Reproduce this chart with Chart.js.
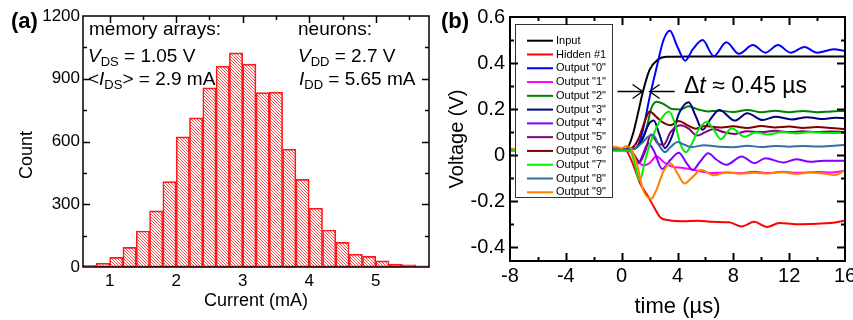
<!DOCTYPE html>
<html>
<head>
<meta charset="utf-8">
<script src="https://cdn.jsdelivr.net/npm/chart.js@4.4.0/dist/chart.umd.min.js"></script>
<style>
  html, body { margin: 0; padding: 0; background: #fff; }
  #wrap { position: relative; width: 853px; height: 320px; overflow: hidden; }
  #boxA { position: absolute; left: 0; top: 0; width: 430px; height: 320px; }
  #boxB { position: absolute; left: 430px; top: 0; width: 423px; height: 320px; overflow: hidden; }
</style>
</head>
<body>
<div id="wrap">
  <div id="boxA"><canvas id="chartA" width="430" height="320"></canvas></div>
  <div id="boxB"><canvas id="chartB" width="440" height="320"></canvas></div>
</div>
<script>
const FONT = "'Liberation Sans', Arial, sans-serif";

// ---- (a) histogram of memory-array currents ----
const binCenters = [0.7, 0.9, 1.1, 1.3, 1.5, 1.7, 1.9, 2.1, 2.3, 2.5, 2.7, 2.9, 3.1,
                    3.3, 3.5, 3.7, 3.9, 4.1, 4.3, 4.5, 4.7, 4.9, 5.1, 5.3, 5.5, 5.7];
const counts = [8, 18, 46, 94, 172, 268, 408, 622, 713, 856, 960, 1024, 970,
                834, 836, 563, 419, 281, 177, 118, 61, 51, 29, 14, 10, 5];
const xTicksA = [1, 2, 3, 4, 5];
const yTicksA = [0, 300, 600, 900, 1200];

// ---- (b) transient response, [time (us), voltage (V)] ----
const seriesNames = ['Input', 'Hidden #1', 'Output "0"', 'Output "1"', 'Output "2"', 'Output "3"',
                     'Output "4"', 'Output "5"', 'Output "6"', 'Output "7"', 'Output "8"', 'Output "9"'];
const seriesColors = ['#000000', '#ff0000', '#0000ff', '#ff00ff', '#008000', '#000080',
                      '#8000ff', '#800080', '#800000', '#00ee00', '#336fa8', '#ff8000'];

const input = [[-8,0.025],[-5,0.024],[-2,0.025],[0,0.024],[0.4,0.03],[0.8,0.09],[1.2,0.19],[1.5,0.27],
               [2.0,0.37],[2.6,0.415],[3.2,0.427],[5,0.428],[10,0.428],[16,0.428]];
const hidden1 = [[-8,0.022],[-4,0.02],[-1,0.022],[0.3,0.02],[0.6,-0.01],[1.0,-0.07],[1.3,-0.12],[1.9,-0.18],
                 [2.35,-0.23],[2.8,-0.272],[3.4,-0.283],[4.4,-0.287],[5.5,-0.285],[6.5,-0.29],[7.7,-0.292],
                 [8.6,-0.31],[9.5,-0.29],[10.4,-0.312],[11.3,-0.295],[12.5,-0.3],[14,-0.298],[15,-0.295],[16,-0.285]];
const out0 = [[-8,0.025],[-4,0.022],[-1,0.025],[0.5,0.025],[1.0,0.03],[1.3,0.06],[1.6,0.13],[2.0,0.25],
              [2.5,0.38],[3.0,0.5],[3.45,0.54],[4.0,0.47],[4.55,0.41],[5.1,0.46],[5.8,0.5],[6.6,0.43],
              [7.5,0.49],[8.4,0.44],[9.4,0.478],[10.3,0.445],[11.2,0.478],[12.1,0.445],[13.1,0.47],
              [14.0,0.445],[15.2,0.46],[16,0.453]];
const out1 = [[-8,0.02],[-4,0.022],[-1,0.02],[0.4,0.02],[0.8,0.005],[1.2,-0.03],[1.6,-0.045],[2.0,-0.035],
              [2.5,-0.005],[3.0,-0.03],[3.6,-0.05],[4.3,-0.055],[5.0,-0.062],[5.8,-0.072],[6.5,-0.078],
              [7.5,-0.075],[8.5,-0.079],[9.5,-0.072],[10.5,-0.078],[11.5,-0.072],[12.5,-0.077],[14,-0.073],
              [15,-0.076],[16,-0.068]];
const out2 = [[-8,0.026],[-4,0.024],[-1,0.026],[0.6,0.025],[1.0,0.03],[1.4,0.06],[1.8,0.12],[2.1,0.2],
              [2.5,0.232],[3.0,0.222],[3.6,0.2],[4.2,0.198],[4.8,0.212],[5.5,0.198],[6.2,0.19],[7,0.193],
              [8,0.187],[9,0.196],[10,0.186],[11,0.193],[12,0.186],[13,0.192],[14,0.186],[15,0.19],[16,0.192]];
const out3 = [[-8,0.024],[-4,0.026],[-1,0.024],[0.6,0.026],[1.0,0.03],[1.5,0.07],[1.9,0.13],[2.3,0.15],
              [2.7,0.09],[3.1,0.03],[3.6,0.08],[4.1,0.18],[4.8,0.23],[5.3,0.17],[5.8,0.11],[6.4,0.16],
              [7.0,0.196],[8.1,0.15],[9.0,0.182],[10.1,0.152],[11.0,0.167],[12.2,0.155],[13.3,0.165],
              [14.3,0.157],[15.3,0.162],[16,0.16]];
const out4 = [[-8,0.022],[-4,0.02],[-1,0.022],[0.6,0.024],[0.9,0.0],[1.2,-0.035],[1.5,0.0],[1.9,0.05],
              [2.3,0.02],[2.9,-0.06],[3.5,-0.02],[4.1,0.01],[4.6,-0.03],[5.1,-0.065],[5.6,-0.03],[6.2,0.008],
              [6.8,-0.02],[7.5,-0.042],[8.6,-0.006],[9.5,-0.035],[10.3,-0.014],[11.6,-0.032],[12.5,-0.018],
              [13.5,-0.029],[14.5,-0.024],[16,-0.025]];
const out5 = [[-8,0.025],[-4,0.023],[-1,0.025],[0.6,0.024],[0.9,0.0],[1.3,-0.03],[1.7,0.02],[2.1,0.09],
              [2.6,0.05],[3.0,0.045],[3.5,0.1],[4.2,0.13],[4.8,0.115],[5.4,0.085],[6.0,0.1],[6.6,0.113],
              [7.3,0.1],[8.1,0.092],[9,0.104],[10,0.1],[11,0.106],[12,0.1],[13,0.104],[14,0.1],[15,0.103],[16,0.1]];
const out6 = [[-8,0.025],[-4,0.027],[-1,0.025],[0.5,0.026],[0.9,0.04],[1.2,0.07],[1.5,0.12],[1.8,0.17],
              [2.0,0.19],[2.5,0.165],[3.0,0.14],[3.5,0.13],[4.1,0.148],[4.7,0.13],[5.3,0.115],[6.0,0.127],
              [7,0.12],[8,0.125],[9,0.118],[10,0.126],[11,0.12],[12,0.124],[13,0.118],[14,0.122],[15,0.118],[16,0.112]];
const out7 = [[-8,0.02],[-4,0.018],[-1,0.02],[0.6,0.02],[0.9,-0.03],[1.3,-0.11],[1.65,-0.03],[2.0,0.044],
              [2.5,0.12],[3.0,0.172],[3.4,0.19],[3.8,0.14],[4.2,0.05],[4.6,0.012],[5.0,0.045],[5.5,0.11],
              [6.1,0.145],[6.6,0.11],[7.1,0.07],[7.9,0.117],[8.8,0.08],[9.6,0.098],[10.5,0.09],[11.5,0.1],
              [12.5,0.094],[13.5,0.1],[14.5,0.096],[16,0.097]];
const out8 = [[-8,0.025],[-4,0.023],[-1,0.025],[0.5,0.025],[1.0,0.03],[1.5,0.055],[1.9,0.08],[2.25,0.087],
              [2.7,0.04],[3.1,0.013],[3.5,0.035],[4.0,0.057],[4.5,0.045],[5.0,0.035],[5.9,0.043],[7,0.036],
              [8,0.034],[9,0.041],[10,0.035],[11,0.04],[12,0.036],[13,0.04],[14,0.037],[15,0.04],[16,0.044]];
const out9 = [[-8,0.028],[-5,0.024],[-2,0.03],[-1,0.027],[-0.5,0.036],[0,0.03],[0.3,0.038],[0.6,0.035],
              [0.9,-0.005],[1.1,-0.04],[1.5,-0.145],[2.1,-0.19],[2.5,-0.15],[3.0,-0.07],[3.5,-0.035],
              [4.0,-0.08],[4.5,-0.123],[5.0,-0.1],[5.7,-0.065],[6.6,-0.088],[7.5,-0.075],[8.5,-0.081],
              [9.5,-0.077],[10.5,-0.08],[11.5,-0.074],[12.5,-0.082],[13.5,-0.075],[14.5,-0.08],[15.3,-0.086],[16,-0.065]];
const traces = [input, hidden1, out0, out1, out2, out3, out4, out5, out6, out7, out8, out9];

const xTicksB = [-8, -4, 0, 4, 8, 12, 16];
const yTicksB = [-0.4, -0.2, 0, 0.2, 0.4, 0.6];

// frame + inward ticks on all sides
function boxTicks(cfg) {
    return {
        id: 'boxTicks',
        afterDraw(chart) {
            const { ctx, chartArea: a } = chart;
            const sx = chart.scales.x, sy = chart.scales.y;
            ctx.save();
            ctx.strokeStyle = '#000';
            ctx.lineWidth = cfg.frame;
            ctx.strokeRect(a.left, a.top, a.right - a.left, a.bottom - a.top);
            ctx.lineWidth = cfg.tickWidth;
            ctx.beginPath();
            [[cfg.xMajor, cfg.major], [cfg.xMinor, cfg.minor]].forEach(([vals, len]) => vals.forEach(v => {
                const px = Math.round(sx.getPixelForValue(v)) + 0.5;
                if (cfg.bottom) { ctx.moveTo(px, a.bottom); ctx.lineTo(px, a.bottom - len); }
                ctx.moveTo(px, a.top); ctx.lineTo(px, a.top + len);
            }));
            [[cfg.yMajor, cfg.major], [cfg.yMinor, cfg.minor]].forEach(([vals, len]) => vals.forEach(v => {
                const py = Math.round(sy.getPixelForValue(v)) + 0.5;
                ctx.moveTo(a.left, py); ctx.lineTo(a.left + len, py);
                ctx.moveTo(a.right, py); ctx.lineTo(a.right - len, py);
            }));
            ctx.stroke();
            ctx.restore();
        }
    };
}

// text with italic symbols and subscripts
function richText(ctx, x, y, parts, size) {
    let cx = x;
    parts.forEach(p => {
        const s = p.sub ? Math.round(size * 0.7) : size;
        ctx.font = (p.it ? 'italic ' : '') + s + 'px ' + FONT;
        ctx.fillText(p.t, cx, y + (p.sub ? size * 0.22 : 0));
        cx += ctx.measureText(p.t).width;
    });
}

function hatch() {
    const c = document.createElement('canvas');
    c.width = 3; c.height = 3;
    const p = c.getContext('2d');
    p.strokeStyle = 'rgba(255, 20, 20, 0.85)';
    p.lineWidth = 0.9;
    p.beginPath();
    p.moveTo(0, 0); p.lineTo(3, 3);
    p.moveTo(-1.5, 1.5); p.lineTo(1.5, 4.5);
    p.moveTo(1.5, -1.5); p.lineTo(4.5, 1.5);
    p.stroke();
    return p.createPattern(c, 'repeat');
}

const notesA = {
    id: 'notesA',
    afterDraw(chart) {
        const ctx = chart.ctx;
        ctx.save();
        ctx.fillStyle = '#000';
        ctx.textBaseline = 'alphabetic';
        ctx.textAlign = 'left';
        ctx.font = 'bold 22px ' + FONT;
        ctx.fillText('(a)', 11, 28);
        const fs = 19;
        richText(ctx, 89, 35, [{ t: 'memory arrays:' }], fs);
        richText(ctx, 88, 62, [{ t: 'V', it: true }, { t: 'DS', sub: true }, { t: ' = 1.05 V' }], fs);
        richText(ctx, 88, 85, [{ t: '<' }, { t: 'I', it: true }, { t: 'DS', sub: true }, { t: '> = 2.9 mA' }], fs);
        richText(ctx, 298, 35, [{ t: 'neurons:' }], fs);
        richText(ctx, 298, 62, [{ t: 'V', it: true }, { t: 'DD', sub: true }, { t: ' = 2.7 V' }], fs);
        richText(ctx, 299, 85, [{ t: 'I', it: true }, { t: 'DD', sub: true }, { t: ' = 5.65 mA' }], fs);
        // y title
        ctx.translate(27, 155);
        ctx.rotate(-Math.PI / 2);
        ctx.textAlign = 'center';
        ctx.textBaseline = 'middle';
        ctx.font = '18px ' + FONT;
        ctx.fillText('Count', 0, 0);
        ctx.restore();
    }
};

function arrow(ctx, x0, x1, y) {
    const d = Math.sign(x1 - x0);
    ctx.beginPath();
    ctx.moveTo(x0, y); ctx.lineTo(x1, y);
    ctx.moveTo(x1 - d * 10, y - 7); ctx.lineTo(x1, y); ctx.lineTo(x1 - d * 10, y + 7);
    ctx.stroke();
}

const notesB = {
    id: 'notesB',
    afterDatasetsDraw(chart) {
        const ctx = chart.ctx;
        const sx = chart.scales.x, sy = chart.scales.y;
        ctx.save();
        // delay arrows
        const ay = Math.round(sy.getPixelForValue(0.278)) + 0.5;
        ctx.strokeStyle = '#000';
        ctx.lineWidth = 1.3;
        arrow(ctx, sx.getPixelForValue(-0.3), sx.getPixelForValue(1.5), ay);
        arrow(ctx, sx.getPixelForValue(3.8), sx.getPixelForValue(2.0), ay);
        ctx.fillStyle = '#000';
        ctx.textBaseline = 'alphabetic';
        richText(ctx, 254, 93, [{ t: '\u0394' }, { t: 't', it: true }, { t: ' \u2248 0.45 \u00b5s' }], 23);
        // legend box
        ctx.fillStyle = '#fff';
        ctx.fillRect(85, 24, 98, 174);
        ctx.strokeStyle = '#333';
        ctx.lineWidth = 1;
        ctx.strokeRect(85.5, 24.5, 97, 173);
        ctx.font = '11px ' + FONT;
        ctx.textBaseline = 'middle';
        chart.data.datasets.forEach((ds, i) => {
            const y = 40.7 + i * 13.78;
            ctx.strokeStyle = ds.borderColor;
            ctx.lineWidth = 2;
            ctx.beginPath(); ctx.moveTo(97, y); ctx.lineTo(123, y); ctx.stroke();
            ctx.fillStyle = '#000';
            ctx.fillText(ds.label, 126, y);
        });
        ctx.restore();
    },
    afterDraw(chart) {
        const ctx = chart.ctx;
        ctx.save();
        ctx.fillStyle = '#000';
        ctx.font = 'bold 22px ' + FONT;
        ctx.textBaseline = 'alphabetic';
        ctx.fillText('(b)', 11, 28);
        ctx.restore();
    }
};

new Chart(document.getElementById('chartA'), {
    type: 'bar',
    data: {
        datasets: [{
            data: binCenters.map((c, i) => ({ x: c, y: counts[i] })),
            backgroundColor: hatch(),
            borderColor: '#ff1a1a',
            borderWidth: 1,
            borderSkipped: false,
            barPercentage: 1,
            categoryPercentage: 1
        }]
    },
    options: {
        responsive: false,
        animation: false,
        devicePixelRatio: 1,
        layout: { padding: { left: 0, top: 16, right: 1, bottom: 0 } },
        plugins: { legend: { display: false }, tooltip: { enabled: false } },
        scales: {
            x: {
                type: 'linear', offset: false, min: 0.6, max: 5.8,
                grid: { display: false, drawTicks: false },
                border: { display: false },
                afterBuildTicks: s => { s.ticks = xTicksA.map(v => ({ value: v })); },
                ticks: { color: '#000', font: { family: FONT, size: 17 }, padding: 4, maxRotation: 0,
                         callback: v => String(v) },
                title: { display: true, text: 'Current (mA)', color: '#000',
                         font: { family: FONT, size: 18 }, padding: { top: 0, bottom: 8 } },
                afterFit: s => { s.height = 53; }
            },
            y: {
                min: 0, max: 1200,
                grid: { display: false, drawTicks: false },
                border: { display: false },
                afterBuildTicks: s => { s.ticks = yTicksA.map(v => ({ value: v })); },
                ticks: { color: '#000', font: { family: FONT, size: 17 }, padding: 3,
                         callback: v => String(v) },
                afterFit: s => { s.width = 83; }
            }
        }
    },
    plugins: [boxTicks({ frame: 1.5, tickWidth: 1.5, major: 7, minor: 4, bottom: false,
                         xMajor: [1, 2, 3, 4, 5], xMinor: [1.5, 2.5, 3.5, 4.5, 5.5],
                         yMajor: [300, 600, 900], yMinor: [150, 450, 750, 1050] }), notesA]
});

new Chart(document.getElementById('chartB'), {
    type: 'line',
    data: {
        datasets: traces.map((d, i) => ({
            label: seriesNames[i],
            data: d.map(p => ({ x: p[0], y: p[1] })),
            borderColor: seriesColors[i],
            borderWidth: 2,
            pointRadius: 0,
            cubicInterpolationMode: 'monotone',
            order: traces.length - i
        }))
    },
    options: {
        responsive: false,
        animation: false,
        devicePixelRatio: 1,
        layout: { padding: { left: 0, top: 17, right: 25, bottom: 0 } },
        plugins: { legend: { display: false }, tooltip: { enabled: false } },
        scales: {
            x: {
                type: 'linear', min: -8, max: 16,
                grid: { display: false, drawTicks: false },
                border: { display: false },
                afterBuildTicks: s => { s.ticks = xTicksB.map(v => ({ value: v })); },
                ticks: { color: '#000', font: { family: FONT, size: 20 }, padding: 3, maxRotation: 0,
                         callback: v => String(v) },
                title: { display: true, text: 'time (\u00b5s)', color: '#000',
                         font: { family: FONT, size: 22 }, padding: { top: 0, bottom: 0 } },
                afterFit: s => { s.height = 59; }
            },
            y: {
                min: -0.46, max: 0.6,
                grid: { display: false, drawTicks: false },
                border: { display: false },
                afterBuildTicks: s => { s.ticks = yTicksB.map(v => ({ value: v })); },
                ticks: { color: '#000', font: { family: FONT, size: 20 }, padding: 5,
                         callback: v => String(v) },
                title: { display: true, text: 'Voltage (V)', color: '#000',
                         font: { family: FONT, size: 20 }, padding: { top: 15, bottom: 0 } },
                afterFit: s => { s.width = 80; }
            }
        }
    },
    plugins: [boxTicks({ frame: 2, tickWidth: 2, major: 8, minor: 4, bottom: true,
                         xMajor: [-4, 0, 4, 8, 12], xMinor: [-6, -2, 2, 6, 10, 14],
                         yMajor: [-0.4, -0.2, 0, 0.2, 0.4], yMinor: [-0.3, -0.1, 0.1, 0.3, 0.5] }), notesB]
});
</script>
</body>
</html>
